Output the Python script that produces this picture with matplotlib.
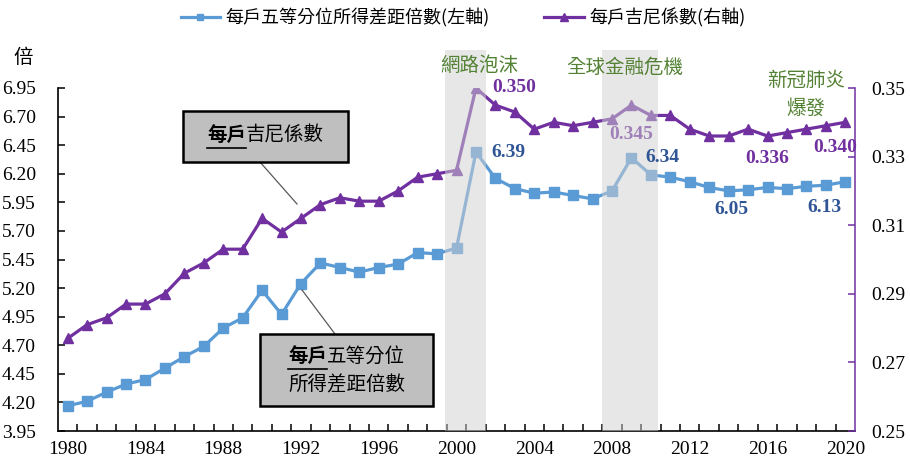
import matplotlib
matplotlib.use("Agg")
import matplotlib.pyplot as plt
from matplotlib.patches import Rectangle
from matplotlib.lines import Line2D
import numpy as np

# ---- data -------------------------------------------------------------
years = list(range(1980, 2021))
ratio = [4.17, 4.21, 4.29, 4.36, 4.40, 4.50, 4.60, 4.69, 4.85, 4.94,
         5.18, 4.97, 5.24, 5.42, 5.38, 5.34, 5.38, 5.41, 5.51, 5.50,
         5.55, 6.39, 6.16, 6.07, 6.03, 6.04, 6.01, 5.98, 6.05, 6.34,
         6.19, 6.17, 6.13, 6.08, 6.05, 6.06, 6.08, 6.07, 6.09, 6.10,
         6.13]
gini = [0.277, 0.281, 0.283, 0.287, 0.287, 0.290, 0.296, 0.299, 0.303, 0.303,
        0.312, 0.308, 0.312, 0.316, 0.318, 0.317, 0.317, 0.320, 0.324, 0.325,
        0.326, 0.350, 0.345, 0.343, 0.338, 0.340, 0.339, 0.340, 0.341, 0.345,
        0.342, 0.342, 0.338, 0.336, 0.336, 0.338, 0.336, 0.337, 0.338, 0.339,
        0.340]
left_ticks = [3.95, 4.20, 4.45, 4.70, 4.95, 5.20, 5.45, 5.70, 5.95, 6.20,
              6.45, 6.70, 6.95]
right_ticks = [0.25, 0.27, 0.29, 0.31, 0.33, 0.35]
year_labels = [1980, 1984, 1988, 1992, 1996, 2000, 2004, 2008, 2012, 2016, 2020]
events = ["網路泡沫", "全球金融危機", "新冠肺炎\n爆發"]
shade_spans = [(1999.4, 2001.5), (2007.5, 2010.35)]
ratio_label_years = [2001, 2009, 2014, 2020]
gini_label_years = [2001, 2009, 2016, 2020]

# ---- style ------------------------------------------------------------
W, H = 910, 462
BLUE = "#5b9bd5"
PURPLE = "#7030a0"
DBLUE = "#2f5597"
GREEN = "#548235"
CJK = ["Noto Sans CJK TC", "DejaVu Sans"]
SERIF = "Liberation Serif"

fig = plt.figure(figsize=(W / 100, H / 100), dpi=100)
fig.patch.set_facecolor("white")


def fx(x):
    return x / W


def fy(y):
    return 1 - y / H


ax = fig.add_axes([fx(58), fy(431), fx(855) - fx(58), fy(88) - fy(431)])
ax2 = ax.twinx()

l1, = ax.plot(years, ratio, color=BLUE, lw=2.3, marker="s", ms=6.5,
              zorder=3)
l2, = ax2.plot(years, gini, color=PURPLE, lw=2.3, marker="^", ms=7.5,
               zorder=3)

ax.set_xlim(1979.5, 2020.5)
ax.set_ylim(3.95, 6.95)
ax2.set_ylim(0.25, 0.35)

ax.set_yticks(left_ticks)
ax.set_yticklabels([f"{v:.2f}" for v in left_ticks])
ax2.set_yticks(right_ticks)
ax2.set_yticklabels([f"{v:.2f}" for v in right_ticks])
ax.set_xticks(year_labels)
ax.set_xticklabels([str(y) for y in year_labels])
ax.set_xticks(np.arange(1980.5, 2020.5, 1.0), minor=True)

for lab in ax.get_xticklabels() + ax.get_yticklabels() + ax2.get_yticklabels():
    lab.set_fontfamily(SERIF)
    lab.set_fontsize(14)

ax.tick_params(axis="x", which="major", length=0, pad=7)
ax.tick_params(axis="x", which="minor", direction="in", length=5, width=1.1,
               color="black")
ax.tick_params(axis="y", direction="in", length=5, width=1.1, pad=16)
ax2.tick_params(axis="y", direction="in", length=5, width=1.1,
                color=PURPLE, pad=12)

for s in ["top", "right"]:
    ax.spines[s].set_visible(False)
for s in ["top", "left", "bottom"]:
    ax2.spines[s].set_visible(False)
ax.spines["left"].set_linewidth(1.2)
ax.spines["bottom"].set_linewidth(1.2)
ax2.spines["right"].set_color(PURPLE)
ax2.spines["right"].set_linewidth(1.1)

# shaded crisis periods, laid over the lines so they show through lighter
for x0, x1 in shade_spans:
    r = ax2.axvspan(x0, x1, ymin=0, ymax=1 + 38 / 343, color="#d0d0d0",
                    alpha=0.5, lw=0, zorder=5)
    r.set_clip_on(False)

# value labels (all on the upper axes so they can sit above the shading)
ratio_map = dict(zip(years, ratio))
gini_map = dict(zip(years, gini))
ratio_offsets = {2001: (32, 0), 2009: (31, 0), 2014: (3, -19), 2020: (-21, -26)}
gini_offsets = {2001: (38, 1), 2009: (0, -29), 2016: (0, -22), 2020: (-10, -25)}

for y in ratio_label_years:
    ax2.annotate(f"{ratio_map[y]:.2f}", (y, ratio_map[y]),
                 xycoords=ax.transData,
                 xytext=ratio_offsets[y], textcoords="offset pixels",
                 ha="center", va="center", fontfamily=SERIF, fontsize=14,
                 fontweight="bold", color=DBLUE, zorder=8,
                 annotation_clip=False)
for y in gini_label_years:
    # the 2009 label sits inside the shaded band
    z = 4 if y == 2009 else 8
    ax2.annotate(f"{gini_map[y]:.3f}", (y, gini_map[y]),
                 xytext=gini_offsets[y], textcoords="offset pixels",
                 ha="center", va="center", fontfamily=SERIF, fontsize=14,
                 fontweight="bold", color=PURPLE, zorder=z,
                 annotation_clip=False)

# event captions
event_pos = [(479, 65), (625, 67), (806, 94)]
for txt, (x, y) in zip(events, event_pos):
    fig.text(fx(x), fy(y), txt, ha="center", va="center", family=CJK,
             fontsize=14, color=GREEN, linespacing=1.45)

# unit label
fig.text(fx(23), fy(57), "倍", ha="center", va="center", family=CJK,
         fontsize=14, color="black")

# callout boxes with leader lines; the leading "每戶" is bold and underlined
FS_BOX = 14
FS_PX = FS_BOX * 100 / 72


def callout(x0, y0, x1, y1, head, rest, text_x, text_ys, ul_y, leader):
    fig.patches.append(Rectangle((fx(x0), fy(y1)), fx(x1) - fx(x0),
                                 fy(y0) - fy(y1), transform=fig.transFigure,
                                 facecolor="#bfbfbf", edgecolor="black",
                                 lw=1.8, zorder=6))
    fig.text(fx(text_x), fy(text_ys[0]), head, ha="left", va="center",
             family=CJK, fontsize=FS_BOX, fontweight="bold", color="black",
             zorder=7)
    fig.text(fx(text_x + 2 * FS_PX), fy(text_ys[0]), rest[0], ha="left",
             va="center", family=CJK, fontsize=FS_BOX, color="black",
             zorder=7)
    for t, ty in zip(rest[1:], text_ys[1:]):
        fig.text(fx(text_x), fy(ty), t, ha="left", va="center", family=CJK,
                 fontsize=FS_BOX, color="black", zorder=7)
    fig.lines.append(Line2D([fx(text_x), fx(text_x + 2 * FS_PX)],
                            [fy(ul_y), fy(ul_y)], transform=fig.transFigure,
                            color="black", lw=1.2, zorder=7))
    (ax_, ay_), (bx_, by_) = leader
    fig.lines.append(Line2D([fx(ax_), fx(bx_)], [fy(ay_), fy(by_)],
                            transform=fig.transFigure, color="#595959",
                            lw=0.9, zorder=6))


callout(183, 111, 348, 162, "每戶", ["吉尼係數"], 207, [135], 148,
        ((260, 162), (297, 204)))
callout(260, 334, 433, 406, "每戶", ["五等分位", "所得差距倍數"], 288,
        [356, 385], 369, ((302, 290), (335, 334)))

# legend
fig.legend(handles=[l1, l2],
           labels=["每戶五等分位所得差距倍數(左軸)", "每戶吉尼係數(右軸)"],
           loc="center", bbox_to_anchor=(fx(463), fy(18)), ncol=2,
           frameon=False, prop={"family": CJK, "size": 13},
           handlelength=2.2, handletextpad=0.3, columnspacing=3.0,
           markerscale=0.75)

fig.savefig("out.png", dpi=100, facecolor="white")
